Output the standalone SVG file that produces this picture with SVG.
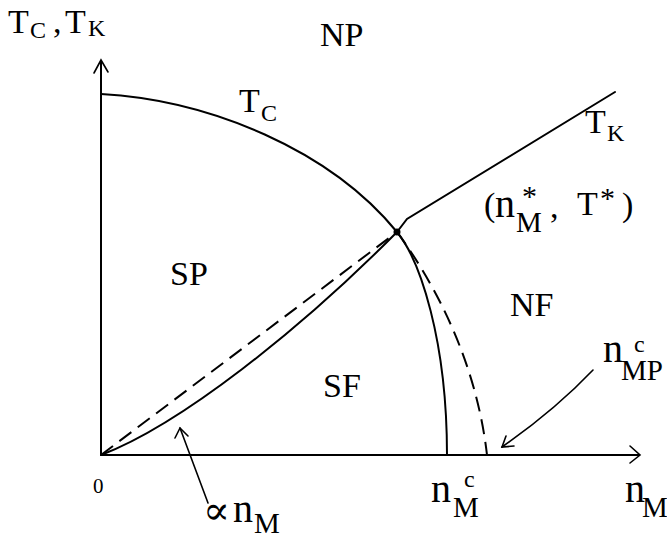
<svg xmlns="http://www.w3.org/2000/svg" width="667" height="539" viewBox="0 0 667 539">
<style>
.ln{fill:none;stroke:#000;stroke-width:2;stroke-linecap:round}
.ds{fill:none;stroke:#000;stroke-width:2;stroke-dasharray:15 8}
.ar{fill:none;stroke:#000;stroke-width:1.6;stroke-linecap:round}
text{font-family:"Liberation Serif","DejaVu Serif",serif;fill:#000}
.big{font-size:34px}
.sub{font-size:24px}
.n{font-size:40px}
.m{font-size:29px}
.st{font-size:30px}
</style>
<rect width="667" height="539" fill="#fff"/>
<g id="axes">
<path class="ln" d="M101,455 V61"/>
<path class="ar" d="M94,73 L101,60 L108,72"/>
<path class="ln" d="M101,455 H639"/>
<path class="ar" d="M630,446 L640,455 L630,463"/>
</g>
<g id="connectors">
<path id="tc-curve" class="ln" d="M101,94 C210,100 330,150 397,232 C420,260 447,340 447,455"/>
<path id="dashed-upper" class="ds" d="M397,232 C425,270 475,350 487,455"/>
<path id="tk-line" class="ln" d="M397,232 L407,219 L615,92"/>
<path id="dashed-lower" class="ds" d="M101,455 L397,232"/>
<path id="solid-lower" class="ln" d="M101,455 C180,425 300,330 397,232"/>
<circle cx="397" cy="232" r="3.5" fill="#000"/>
<path class="ar" d="M208,503 L180,428"/>
<path class="ar" d="M175,438 L180,428 L188,436"/>
<path class="ar" d="M593,370 Q555,410 502,447"/>
<path class="ar" d="M506,436 L502,447 L514,446"/>
</g>
<g id="label-axis-y"><text class="big" x="8" y="33">T</text><text class="sub" x="30" y="38">C</text><text class="big" x="53" y="33">,</text><text class="big" x="65" y="33">T</text><text class="sub" x="88" y="36">K</text></g>
<g id="label-NP"><text class="big" x="320" y="46">NP</text></g>
<g id="label-Tc"><text class="big" x="239" y="112">T</text><text class="sub" x="261" y="121">C</text></g>
<g id="label-Tk"><text class="big" x="585" y="133">T</text><text class="sub" x="607" y="141">K</text></g>
<g id="label-point"><text class="big" x="484" y="216">(</text><text class="n" x="495" y="217">n</text><text class="m" x="516" y="232">M</text><text class="st" x="522" y="206">*</text><text class="big" x="550" y="218">,</text><text class="big" x="577" y="215">T</text><text class="st" x="600" y="208">*</text><text class="big" x="622" y="216">)</text></g>
<g id="label-SP"><text class="big" x="170" y="285">SP</text></g>
<g id="label-SF"><text class="big" x="323" y="397">SF</text></g>
<g id="label-NF"><text class="big" x="510" y="316">NF</text></g>
<g id="label-nMPc"><text class="n" x="603" y="362">n</text><text class="sub" x="634" y="352">c</text><text class="m" x="621" y="380">MP</text></g>
<g id="label-nMc"><text class="n" x="431" y="502">n</text><text class="sub" x="464" y="487">c</text><text class="m" x="453" y="517">M</text></g>
<g id="label-nM"><text class="n" x="625" y="502">n</text><text class="m" x="642" y="517">M</text></g>
<g id="label-zero"><text style="font-size:21px" x="93" y="493">0</text></g>
<g id="label-prop"><text class="n" x="203" y="524">∝</text><text class="n" x="233" y="522">n</text><text class="m" x="254" y="533">M</text></g>
</svg>
